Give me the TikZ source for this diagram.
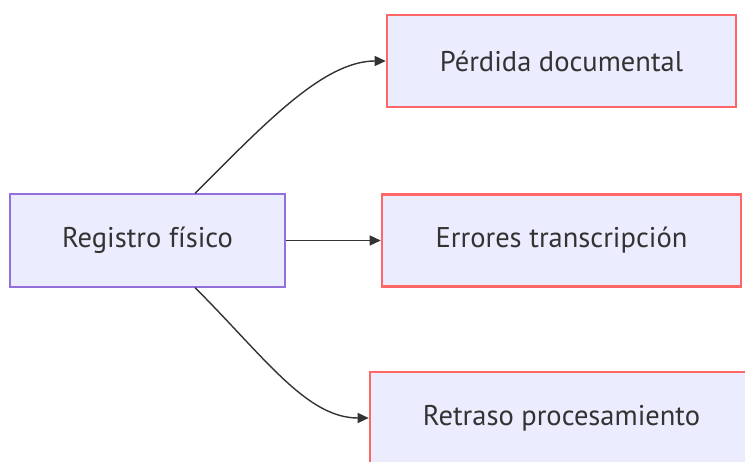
\documentclass[tikz,border=0pt]{standalone}
\usepackage{fontspec}
\setmainfont{PT Sans}
\usetikzlibrary{arrows.meta}

\definecolor{boxfill}{HTML}{ECECFF}
\definecolor{boxline}{HTML}{9370DB}
\definecolor{badline}{HTML}{FF6666}
\definecolor{ink}{HTML}{333333}

\begin{document}
\begin{tikzpicture}[x=1pt,y=-1pt]
	\tikzset{>={Triangle[length=11pt,width=10pt]}}
	\tikzset{source/.style={draw=boxline,fill=boxfill,line width=1.2pt,minimum width=275pt,minimum height=93pt,text=ink,font=\fontsize{28.5}{34}\selectfont}}
	\tikzset{effect/.style={draw=badline,fill=boxfill,line width=2.6pt,minimum height=92pt,text=ink,font=\fontsize{28.5}{34}\selectfont}}
	\tikzset{link/.style={->,draw=ink,line width=1.4pt}}

	\useasboundingbox (0,0) rectangle (745,462);

	\node[source] (reg) at (147.5,240.5) {Registro físico};

	\node[effect,minimum width=349pt] (loss) at (561.5,61) {Pérdida documental};
	\node[effect,minimum width=359pt] (err) at (561.5,240.5) {Errores transcripción};
	\node[effect,minimum width=383pt] (delay) at (561.5,418) {Retraso procesamiento};

	\draw[link] ([xshift=47.5pt]reg.north) .. controls +(70,-70) and +(-62,0) .. (loss.west);
	\draw[link] (reg.east) -- (err.west);
	\draw[link] ([xshift=47.5pt]reg.south) .. controls +(70,70) and +(-62,0) .. (delay.west);

\end{tikzpicture}
\end{document}
